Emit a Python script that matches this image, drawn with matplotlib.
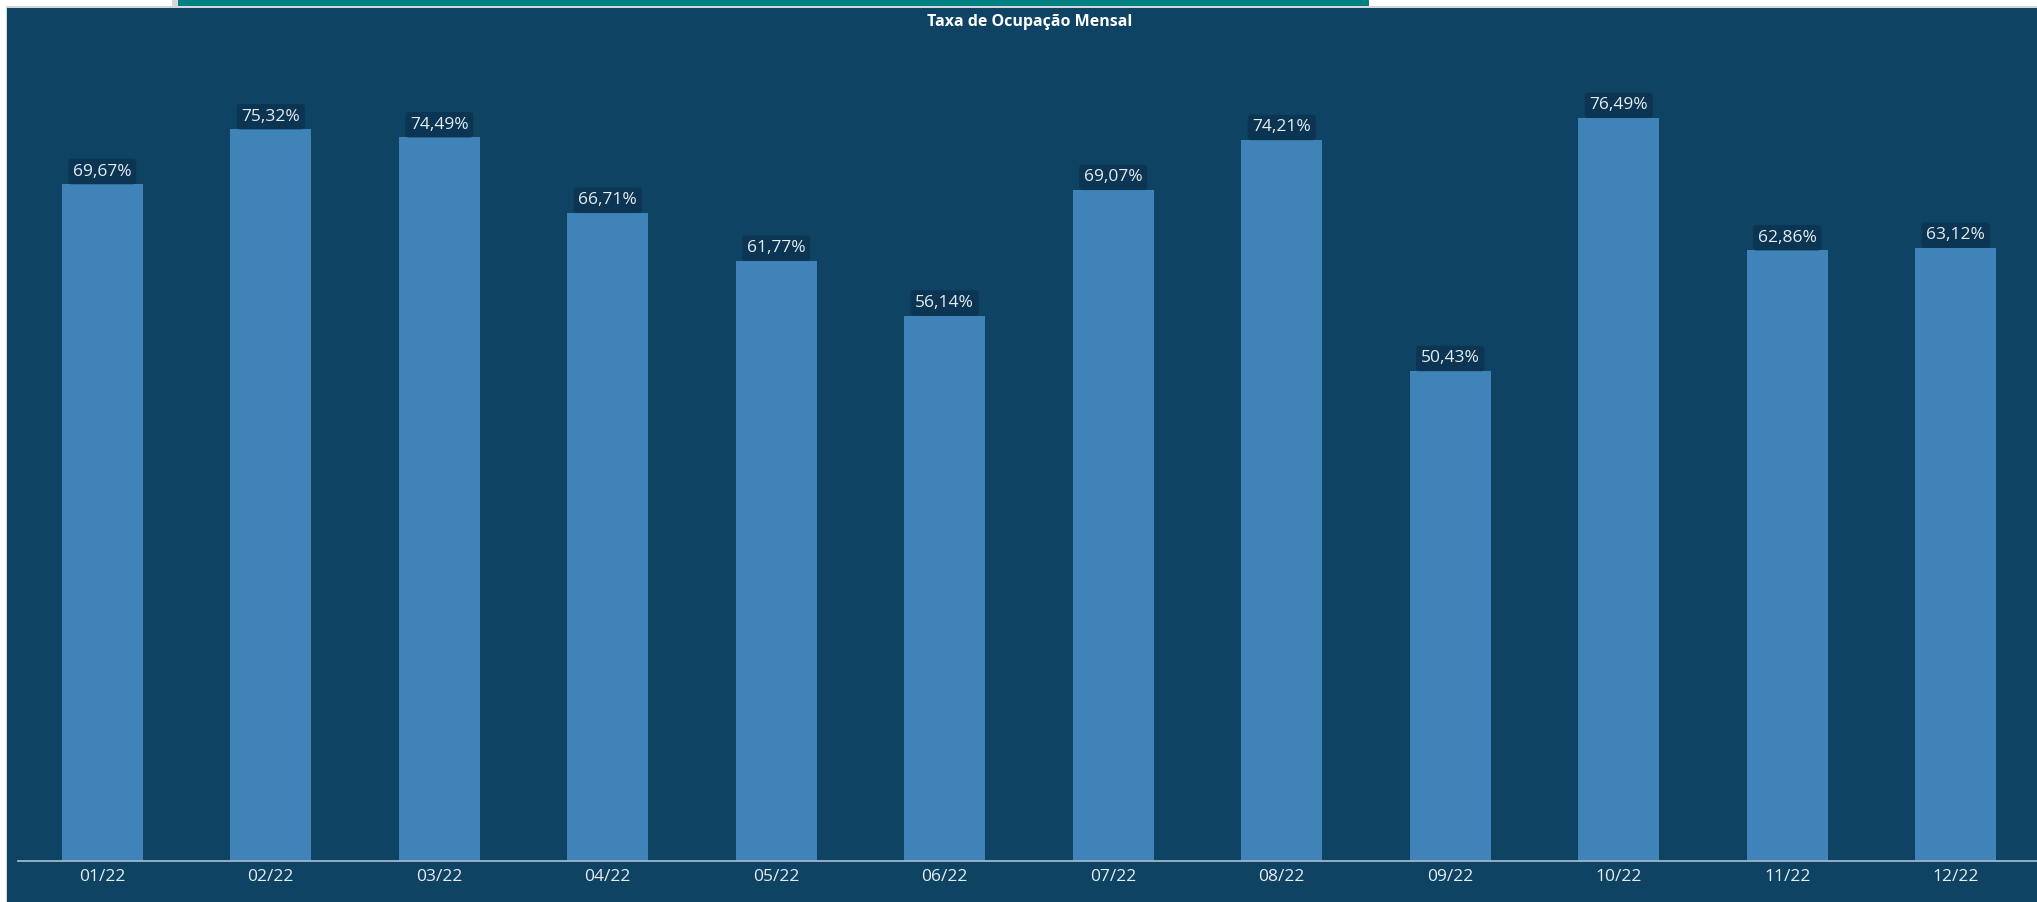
import numpy as np
import matplotlib
matplotlib.use('Agg')
from matplotlib import pyplot as plt
from matplotlib.patches import Rectangle

meses = ['01/22', '02/22', '03/22', '04/22', '05/22', '06/22',
         '07/22', '08/22', '09/22', '10/22', '11/22', '12/22']
ocupacao = [69.67, 75.32, 74.49, 66.71, 61.77, 56.14,
            69.07, 74.21, 50.43, 76.49, 62.86, 63.12]
titulo = 'Taxa de Ocupação Mensal'

fundo = '#0E4363'
cor_barra = '#3F83B8'
cor_caixa = '#0B3552'
cor_texto = '#E6ECF1'

plt.rcParams['font.family'] = ['Open Sans', 'DejaVu Sans']

W, H = 2037, 902
fig = plt.figure(figsize=(W / 100, H / 100), dpi=100, facecolor='white')

# moldura estilo painel
fig.patches.append(Rectangle((6 / W, 0), 1, (H - 6) / H, transform=fig.transFigure,
                             facecolor='#D0D6DA', edgecolor='none', zorder=0))
fig.patches.append(Rectangle((7 / W, 0), 1, (H - 8) / H, transform=fig.transFigure,
                             facecolor=fundo, edgecolor='none', zorder=0))
fig.patches.append(Rectangle((172 / W, (H - 6) / H), 6 / W, 6 / H, transform=fig.transFigure,
                             facecolor='#D8D8D8', edgecolor='none', zorder=0))
fig.patches.append(Rectangle((178 / W, (H - 6) / H), (1369 - 178) / W, 6 / H,
                             transform=fig.transFigure, facecolor='#008080', edgecolor='none', zorder=1))

base, topo = 861, 40
esq, dir_ = 18, 2040
ax = fig.add_axes([esq / W, (H - base) / H, (dir_ - esq) / W, (base - topo) / H])
ax.set_facecolor('none')
ax.set_zorder(5)

x = np.arange(len(meses))
ax.bar(x, ocupacao, width=0.48, color=cor_barra, zorder=2)
ax.set_xlim(-0.5, len(meses) - 0.5)
ax.set_ylim(0, (base - topo) / 9.715)

for xi, v in zip(x, ocupacao):
    rotulo = f'{v:.2f}%'.replace('.', ',')
    ax.annotate(rotulo, (xi, v), xytext=(0, 3.3), textcoords='offset points',
                ha='center', va='bottom', fontsize=12.5, color=cor_texto,
                bbox=dict(boxstyle='round,pad=0.27,rounding_size=0.2', fc=cor_caixa, ec='none'),
                zorder=3)

ax.set_xticks(x)
ax.set_xticklabels(meses, fontsize=12.5, color=cor_texto)
ax.tick_params(axis='x', length=0, pad=6)
ax.set_yticks([])
for lado in ['top', 'right', 'left']:
    ax.spines[lado].set_visible(False)
ax.spines['bottom'].set_color('#9DB7CC')
ax.spines['bottom'].set_linewidth(1.3)

fig.text(1030 / W, 1 - 22 / H, titulo, ha='center', va='center',
         fontsize=11.5, fontweight='bold', color='white', zorder=6)

fig.savefig('out.png', dpi=100, facecolor=fig.get_facecolor())
